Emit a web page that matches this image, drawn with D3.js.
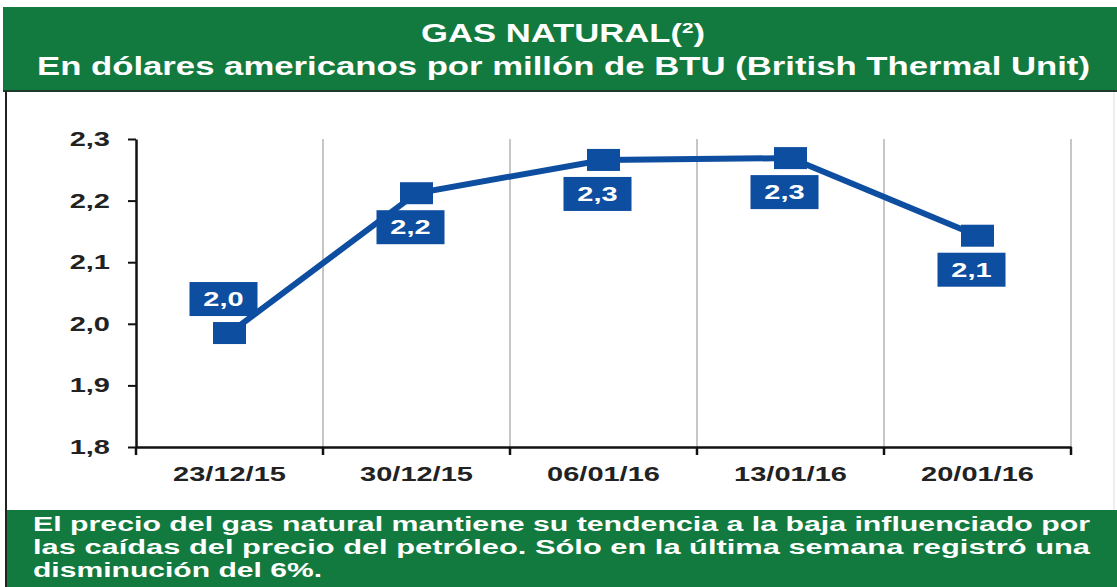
<!DOCTYPE html>
<html>
<head>
<meta charset="utf-8">
<script src="https://cdn.jsdelivr.net/npm/d3@7"></script>
<style>
  body { margin: 0; background: #fff; }
  svg { display: block; font-family: "Liberation Sans", Arial, sans-serif; font-weight: bold; }
</style>
</head>
<body>
<div id="chart"></div>
<script>
// data
const categories = ["23/12/15", "30/12/15", "06/01/16", "13/01/16", "20/01/16"];
const values = [1.985, 2.212, 2.266, 2.269, 2.143];
const valueLabels = ["2,0", "2,2", "2,3", "2,3", "2,1"];
const labelSide = ["above", "below", "below", "below", "below"];
const yTicks = [1.8, 1.9, 2.0, 2.1, 2.2, 2.3];
const titleLine = "GAS NATURAL(";
const subtitle = "En dólares americanos por millón de BTU (British Thermal Unit)";
const footer = [
  "El precio del gas natural mantiene su tendencia a la baja influenciado por",
  "las caídas del precio del petróleo. Sólo en la última semana registró una",
  "disminución del 6%."
];

const width = 1117, height = 587,
    margin = ({ top: 139, right: 46, bottom: 140, left: 136 });

const green = "#127a3e", blue = "#0e4ea0", sx = 1.45;

const svg = d3.select("#chart")
    .append("svg")
    .attr("width", width)
    .attr("height", height);

// frame: title band, footer band, left rule
svg.append("rect").attr("x", 3).attr("y", 7).attr("width", width - 3).attr("height", 84).attr("fill", green);
svg.append("line").attr("x1", 3).attr("x2", width).attr("y1", 91).attr("y2", 91)
    .attr("stroke", "#1d3b2a").attr("stroke-width", 2);
svg.append("rect").attr("x", 5).attr("y", 510).attr("width", width - 5).attr("height", 77).attr("fill", green);
svg.append("line").attr("x1", 6).attr("x2", 6).attr("y1", 91).attr("y2", 587)
    .attr("stroke", "#222").attr("stroke-width", 2);
svg.append("line").attr("x1", 1114).attr("x2", 1114).attr("y1", 92).attr("y2", 510)
    .attr("stroke", "#ddd").attr("stroke-width", 1);

// titles
let t1 = svg.append("text")
    .attr("x", 421).attr("y", 42)
    .attr("font-size", 25).attr("fill", "#fff")
    .attr("textLength", 284).attr("lengthAdjust", "spacingAndGlyphs");
t1.append("tspan").text(titleLine);
t1.append("tspan").attr("font-size", 15).attr("dy", -9).text("2");
t1.append("tspan").attr("dy", 9).text(")");

svg.append("text")
    .attr("x", 37).attr("y", 75)
    .attr("font-size", 25).attr("fill", "#fff")
    .attr("textLength", 1053).attr("lengthAdjust", "spacingAndGlyphs")
    .text(subtitle);

// footer (justified lines)
svg.selectAll(".foot")
    .data(footer)
    .join("text")
    .attr("class", "foot")
    .attr("x", 33)
    .attr("y", (d, i) => 531 + i * 23)
    .attr("font-size", 20).attr("fill", "#fff")
    .attr("textLength", (d, i) => i < footer.length - 1 ? 1057 : 289)
    .attr("lengthAdjust", "spacingAndGlyphs")
    .text(d => d);

// scales
let x = d3.scaleBand()
    .domain(categories)
    .range([margin.left, width - margin.right])
    .padding(0);

let y = d3.scaleLinear()
    .domain([1.8, 2.3])
    .range([height - margin.bottom, margin.top]);

// vertical grid at category boundaries
svg.append("g")
    .selectAll("line")
    .data(categories)
    .join("line")
    .attr("x1", d => x(d) + x.bandwidth())
    .attr("x2", d => x(d) + x.bandwidth())
    .attr("y1", y(2.3))
    .attr("y2", y(1.8))
    .attr("stroke", "#b3b3b3")
    .attr("stroke-width", 1.5);

// y axis
let yAxis = svg.append("g")
    .attr("transform", `translate(${margin.left},0)`)
    .call(d3.axisLeft(y).tickValues(yTicks).tickSize(8).tickSizeOuter(0)
        .tickFormat(d => d3.format(".1f")(d).replace(".", ",")));
yAxis.select(".domain").attr("stroke", "#111").attr("stroke-width", 2.5);
yAxis.selectAll(".tick line").attr("stroke", "#111").attr("stroke-width", 2);
yAxis.selectAll(".tick text")
    .attr("x", 0)
    .attr("transform", `translate(-26,0) scale(${sx},1)`)
    .attr("font-size", 20).attr("fill", "#222");

// x axis: labels at band centres, ticks at boundaries
let xAxis = svg.append("g")
    .attr("transform", `translate(0,${y(1.8)})`)
    .call(d3.axisBottom(x).tickSize(0).tickSizeOuter(0));
xAxis.select(".domain").attr("stroke", "#111").attr("stroke-width", 2.5);
xAxis.selectAll(".tick text")
    .attr("y", 0).attr("dy", 0)
    .attr("transform", `translate(0,34) scale(${sx},1)`)
    .attr("font-size", 20).attr("fill", "#222");

xAxis.append("g")
    .selectAll("line")
    .data([categories[0], ...categories])
    .join("line")
    .attr("x1", (d, i) => i === 0 ? x(d) : x(d) + x.bandwidth())
    .attr("x2", (d, i) => i === 0 ? x(d) : x(d) + x.bandwidth())
    .attr("y1", 0).attr("y2", 8)
    .attr("stroke", "#111").attr("stroke-width", 2.5);

// series
const pts = categories.map((c, i) => ({ c, v: values[i], label: valueLabels[i], side: labelSide[i] }));
const cx = d => x(d.c) + x.bandwidth() / 2;

let line = d3.line()
    .x(cx)
    .y(d => y(d.v));

svg.append("path")
    .datum(pts)
    .attr("d", line)
    .attr("fill", "none")
    .attr("stroke", blue)
    .attr("stroke-width", 6);

svg.append("g")
    .selectAll("rect")
    .data(pts)
    .join("rect")
    .attr("x", d => cx(d) - 16.5)
    .attr("y", d => y(d.v) - 11)
    .attr("width", 33).attr("height", 22)
    .attr("fill", blue);

// value labels
let lab = svg.append("g")
    .selectAll("g")
    .data(pts)
    .join("g")
    .attr("transform", d => `translate(${cx(d) - 6},${y(d.v) + (d.side === "above" ? -34 : 34)})`);

lab.append("rect")
    .attr("x", -34).attr("y", -17)
    .attr("width", 68).attr("height", 34)
    .attr("fill", blue);

lab.append("text")
    .attr("text-anchor", "middle")
    .attr("y", 7)
    .attr("transform", `scale(${sx},1)`)
    .attr("font-size", 20)
    .attr("fill", "#fff")
    .text(d => d.label);
</script>
</body>
</html>
